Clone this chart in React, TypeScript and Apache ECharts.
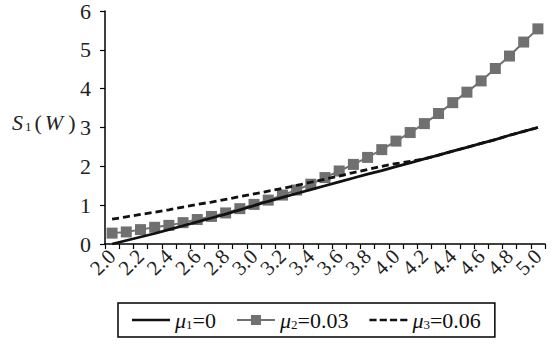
import React, { useEffect, useRef } from "react";
import * as echarts from "echarts";

const categories = [
  "2.0", "2.1", "2.2", "2.3", "2.4", "2.5", "2.6", "2.7", "2.8", "2.9",
  "3.0", "3.1", "3.2", "3.3", "3.4", "3.5", "3.6", "3.7", "3.8", "3.9",
  "4.0", "4.1", "4.2", "4.3", "4.4", "4.5", "4.6", "4.7", "4.8", "4.9", "5.0",
];

const seriesNames = ["μ1=0", "μ2=0.03", "μ3=0.06"];

const mu1Values = [
  0.0, 0.09, 0.18, 0.27, 0.37, 0.47, 0.57, 0.67, 0.77, 0.88,
  0.99, 1.1, 1.2, 1.3, 1.4, 1.5, 1.6, 1.7, 1.8, 1.89,
  1.99, 2.09, 2.19, 2.29, 2.39, 2.49, 2.59, 2.69, 2.8, 2.9, 3.0,
];

const mu2Values = [
  0.28, 0.31, 0.37, 0.43, 0.48, 0.55, 0.63, 0.71, 0.8, 0.91,
  1.02, 1.13, 1.26, 1.39, 1.54, 1.71, 1.88, 2.05, 2.23, 2.43,
  2.65, 2.87, 3.1, 3.36, 3.64, 3.91, 4.2, 4.52, 4.84, 5.2, 5.54,
];

const mu3Values = [
  0.64, 0.7, 0.76, 0.82, 0.88, 0.95, 1.02, 1.08, 1.15, 1.22,
  1.29, 1.36, 1.43, 1.51, 1.59, 1.67, 1.75, 1.84, 1.92, 2.0,
  2.07, 2.13, 2.19, 2.29, 2.39, 2.49, 2.59, 2.69, 2.8, 2.9, 3.0,
];

const yTicks = { min: 0, max: 6, interval: 1 };

const FONT = "'Liberation Serif', 'Times New Roman', Times, serif";
const GRAY = "#707070";

const ICON_SOLID = "path://M0,0h38v2.6h-38z";
const ICON_SQUARE = "path://M0,4h14v2h-14z M14,0h10v10h-10z M24,4h14v2h-14z";
const ICON_DASH = "path://M0,0h7v2.6h-7z M10,0h7v2.6h-7z M20,0h7v2.6h-7z M30,0h7v2.6h-7z";

export default function App() {
  const ref = useRef<HTMLDivElement>(null);

  useEffect(() => {
    if (!ref.current) return;
    const chart = echarts.init(ref.current, null, { renderer: "svg" });

    const richText = {
      i: { fontStyle: "italic", fontSize: 22, fontFamily: FONT, color: "#111" },
      s: { fontSize: 13, fontFamily: FONT, color: "#111", verticalAlign: "bottom" },
      n: { fontSize: 22, fontFamily: FONT, color: "#111" },
    };

    chart.setOption({
      animation: false,
      backgroundColor: "#ffffff",
      grid: { left: 105, right: 10, top: 7, bottom: 100, containLabel: false },
      xAxis: {
        type: "category",
        data: categories,
        boundaryGap: true,
        axisLine: { lineStyle: { color: "#000", width: 1.5 } },
        axisTick: { show: true, interval: 0, length: 5, lineStyle: { color: "#000", width: 1.2 } },
        axisLabel: {
          interval: 0,
          rotate: 45,
          margin: 9,
          hideOverlap: false,
          formatter: (value: string, index: number) => (index % 2 === 0 ? value : ""),
          fontFamily: FONT,
          fontSize: 21,
          color: "#222",
        },
        splitLine: { show: false },
      },
      yAxis: {
        type: "value",
        min: yTicks.min,
        max: yTicks.max,
        interval: yTicks.interval,
        axisLine: { show: true, lineStyle: { color: "#000", width: 1.5 } },
        axisTick: { show: true, length: 5, lineStyle: { color: "#000", width: 1.2 } },
        axisLabel: { margin: 14, fontFamily: FONT, fontSize: 22, color: "#222" },
        splitLine: { show: false },
      },
      legend: {
        data: [
          { name: seriesNames[0], icon: ICON_SOLID, itemStyle: { color: "#111" } },
          { name: seriesNames[1], icon: ICON_SQUARE, itemStyle: { color: GRAY } },
          { name: seriesNames[2], icon: ICON_DASH, itemStyle: { color: "#111" } },
        ],
        left: 118,
        top: 303,
        orient: "horizontal",
        itemWidth: 38,
        itemHeight: 10,
        itemGap: 21,
        symbolKeepAspect: true,
        padding: [6, 14],
        borderColor: "#000",
        borderWidth: 1.5,
        borderRadius: 0,
        itemStyle: { borderWidth: 0 },
        textStyle: { fontFamily: FONT, fontSize: 22, color: "#111", rich: richText },
        formatter: (name: string) => {
          const d = name.charAt(1);
          const rest = name.slice(2);
          return `{i|μ}{s|${d}}{n|${rest}}`;
        },
      },
      graphic: [
        {
          type: "text",
          left: 12,
          top: 111,
          style: {
            text: "{i|S}{s|1}{n|(}{i|W}{n|)}",
            fontFamily: FONT,
            fontSize: 21,
            rich: {
              i: { fontStyle: "italic", fontSize: 22, fontFamily: FONT, fill: "#222", padding: [0, 2, 0, 2] },
              s: { fontSize: 13, fontFamily: FONT, fill: "#222", verticalAlign: "bottom" },
              n: { fontSize: 22, fontFamily: FONT, fill: "#222", padding: [0, 1, 0, 3] },
            },
          },
        },
      ],
      series: [
        {
          name: seriesNames[1],
          type: "line",
          data: mu2Values,
          color: GRAY,
          symbol: "rect",
          symbolSize: 11,
          showAllSymbol: true,
          lineStyle: { color: GRAY, width: 2 },
          itemStyle: { color: GRAY },
          z: 2,
        },
        {
          name: seriesNames[0],
          type: "line",
          data: mu1Values,
          color: "#111",
          symbol: "none",
          lineStyle: { color: "#111", width: 2.8 },
          z: 3,
        },
        {
          name: seriesNames[2],
          type: "line",
          data: mu3Values,
          color: "#111",
          symbol: "none",
          lineStyle: { color: "#111", width: 2.8, type: [7, 4] },
          z: 4,
        },
      ],
    });

    return () => chart.dispose();
  }, []);

  return <div ref={ref} style={{ width: 555, height: 344, position: "fixed", left: 0, top: 0 }} />;
}
